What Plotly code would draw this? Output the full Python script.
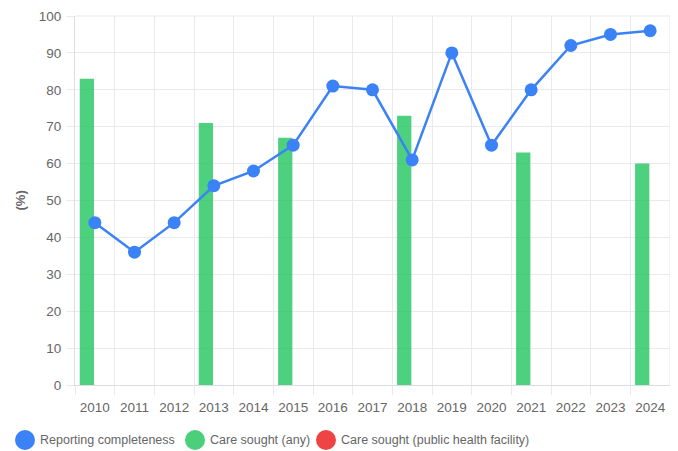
import plotly.graph_objects as go

years = ["2010", "2011", "2012", "2013", "2014", "2015", "2016", "2017",
         "2018", "2019", "2020", "2021", "2022", "2023", "2024"]
reporting = [44, 36, 44, 54, 58, 65, 81, 80, 61, 90, 65, 80, 92, 95, 96]
care_any = [83, None, None, 71, None, 67, None, None, 73, None, None, 63, None, None, 60]
care_public = [None] * len(years)
legend_labels = ["Reporting completeness", "Care sought (any)", "Care sought (public health facility)"]

BLUE = "#3b82f6"
GREEN = "rgba(34,197,94,0.8)"
GREEN_SOLID = "#4ccf7b"
RED = "#ef4444"
GRID = "#e9e9ee"
FONT = "Liberation Sans, Arial, sans-serif"

# the page body has an 8px default margin; size the figure so the window matches
OFF = 8
W, H = 678 - OFF, 451 - OFF
ML, MT = 75 - OFF, 16 - OFF
MR = W - (670 - OFF)
MB = H - (385 - OFF)
PW, PH = W - ML - MR, H - MT - MB

fig = go.Figure()
fig.add_trace(go.Bar(x=years, y=care_any, name=legend_labels[1],
                     marker=dict(color=GREEN, line=dict(width=0)), showlegend=False))
fig.add_trace(go.Bar(x=years, y=care_public, name=legend_labels[2],
                     marker=dict(color=RED, line=dict(width=0)), showlegend=False))
fig.add_trace(go.Scatter(x=years, y=reporting, mode="lines+markers", name=legend_labels[0],
                         line=dict(color=BLUE, width=2.5),
                         marker=dict(color=BLUE, size=13), showlegend=False))


def px2paper_x(px):  # px in window coordinates
    return (px - OFF - ML) / PW


def px2paper_y(py):
    return (H - MB - (py - OFF)) / PH


# legend drawn in Chart.js point-style (circles)
legend_colors = [BLUE, GREEN_SOLID, RED]
circle_cx = [25, 195, 326]
legend_cy = 440
for lab, col, cx in zip(legend_labels, legend_colors, circle_cx):
    fig.add_shape(type="circle", xref="paper", yref="paper",
                  xsizemode="pixel", ysizemode="pixel",
                  xanchor=px2paper_x(cx), yanchor=px2paper_y(legend_cy),
                  x0=-10, x1=10, y0=-10, y1=10,
                  fillcolor=col, line=dict(width=0))
    fig.add_annotation(text=lab, xref="paper", yref="paper",
                       x=px2paper_x(cx + 12.5), y=px2paper_y(legend_cy),
                       xanchor="left", yanchor="middle", showarrow=False,
                       font=dict(size=12.5, color="#666666", family=FONT))

fig.add_annotation(text="<b>(%)</b>", xref="paper", yref="paper",
                   x=px2paper_x(20), y=0.5, textangle=-90, showarrow=False,
                   xanchor="center", yanchor="middle",
                   font=dict(size=13, color="#666666", family=FONT))

fig.update_layout(
    width=W, height=H,
    margin=dict(l=ML, r=MR, t=MT, b=MB, pad=0),
    paper_bgcolor="white", plot_bgcolor="white",
    barmode="group", bargap=0.2, bargroupgap=0.1,
    font=dict(family=FONT, size=13, color="#666666"),
    showlegend=False,
    xaxis=dict(type="category", tickson="boundaries", ticks="outside", ticklen=9,
               tickcolor=GRID, showgrid=True, gridcolor=GRID, gridwidth=1,
               showline=True, linecolor="#dcdce2", linewidth=1, mirror=False,
               tickfont=dict(size=13.5, color="#666666"), range=[-0.5, 14.5],
               automargin=False, ticklabelstandoff=10),
    yaxis=dict(range=[0, 100], dtick=10, ticks="outside", ticklen=8, tickcolor=GRID,
               showgrid=True, gridcolor=GRID, gridwidth=1, zeroline=False,
               showline=True, linecolor="#dcdce2", linewidth=1,
               tickfont=dict(size=13.5, color="#666666"), automargin=False,
               ticklabelstandoff=2),
    hovermode=False,
)
fig.add_shape(type="line", xref="paper", yref="paper", x0=1, x1=1, y0=0, y1=1,
              line=dict(color=GRID, width=1))
fig.add_shape(type="line", xref="paper", yref="paper", x0=0, x1=1, y0=1, y1=1,
              line=dict(color=GRID, width=1))

fig.write_html("out.html")
